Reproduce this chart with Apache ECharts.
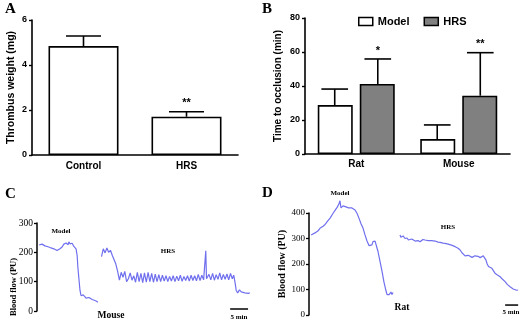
<!DOCTYPE html>
<html><head><meta charset="utf-8">
<script src="https://cdn.jsdelivr.net/npm/echarts@6/dist/echarts.min.js"></script>
<style>html,body{margin:0;padding:0;background:#fff}#c{width:522px;height:322px}</style>
</head><body><div id="c"></div>
<script>
// Panel A
const aCategories = ['Control', 'HRS'];
const aMeans = [4.84, 1.70];
const aErrors = [0.45, 0.22];
const aSig = ['', '**'];
const aTicks = [0, 2, 4, 6];
// Panel B
const bCategories = ['Rat', 'Mouse'];
const bModel = [28.8, 8.8];
const bModelErr = [9.4, 8.3];
const bHRS = [41.2, 34.3];
const bHRSErr = [14.7, 25.3];
const bHRSSig = ['*', '**'];
const bTicks = [0, 20, 40, 60, 80];
// Panel C traces [time (min), blood flow (PU)]
const cModel = [[0.6,225],[1.4,228],[2.2,222],[2.7,226],[3.1,219],[3.9,215],[4.3,218],[4.7,212],[5.2,210],[5.6,206],[6.0,210],[6.4,212],[7.0,218],[7.5,228],[8.1,232],[8.4,238],[8.7,226],[8.9,236],[9.2,229],[9.5,234],[9.8,231],[10.3,220],[10.9,212],[11.2,190],[11.4,150],[11.7,110],[12.0,70],[12.3,52],[12.6,47],[12.9,55],[13.1,50],[13.7,44],[14.2,43],[14.5,46],[14.8,40],[15.4,39],[15.7,42],[15.9,36],[16.5,34],[17.0,30]];
const cHRS = [[18.0,185],[18.5,212],[19.0,198],[19.5,215],[20.0,200],[20.5,207],[21.0,190],[21.5,196],[22.0,160],[22.5,135],[23.0,105],[23.5,132],[24.0,115],[24.5,135],[25.0,100],[25.5,110],[26.0,130],[26.5,105],[27.0,120],[27.5,98],[28.0,132],[28.5,100],[29.0,128],[29.5,97],[30.0,130],[30.5,98],[31.0,132],[31.5,100],[32.0,128],[32.5,98],[33.0,126],[33.5,100],[34.0,124],[34.5,100],[35.0,122],[35.5,102],[36.0,120],[36.5,100],[37.0,118],[37.5,102],[38.0,120],[38.5,100],[39.0,119],[39.5,103],[40.0,122],[40.5,101],[41.0,118],[41.5,104],[42.0,120],[42.5,102],[43.0,122],[43.5,104],[44.0,120],[44.5,103],[45.0,125],[45.5,104],[46.0,122],[46.5,106],[46.9,112],[47.1,205],[47.3,110],[47.6,108],[48.0,125],[48.5,106],[49.0,128],[49.5,105],[50.0,124],[50.5,108],[51.0,130],[51.5,106],[52.0,125],[52.5,108],[53.0,126],[53.5,106],[54.0,128],[54.5,110],[54.9,122],[55.3,95],[55.6,70],[56.0,62],[56.5,72],[57.0,65],[57.5,70],[58.0,62],[58.5,66],[59.0,60],[59.4,62]];
const cScaleBar = [[53.9,7],[58.9,7]];
const cTicks = [0, 100, 200, 300];
// Panel D traces [time (min), blood flow (PU)]
const dModel = [[0.8,314],[1.5,318],[2.3,322],[2.9,318],[3.5,330],[4.2,340],[4.8,336],[5.4,348],[6.2,355],[6.8,352],[7.3,370],[8.1,380],[8.6,376],[9.2,398],[10.0,410],[10.8,422],[11.5,435],[11.9,448],[12.3,420],[12.7,426],[13.1,428],[13.8,432],[14.2,424],[14.6,426],[15.2,420],[15.8,426],[16.5,420],[17.1,416],[17.7,412],[18.5,398],[19.2,380],[20.0,358],[20.8,340],[21.5,315],[22.3,290],[23.1,272],[23.8,265],[24.2,275],[24.6,288],[25.0,294],[25.4,290],[26.0,285],[26.5,250],[27.3,210],[28.1,170],[28.8,130],[29.6,95],[30.0,80],[30.4,82],[30.8,80],[31.2,86],[31.5,90],[31.9,80],[32.3,88]];
const dHRS = [[35.0,314],[35.3,305],[35.7,303],[36.2,310],[36.9,300],[37.3,304],[37.7,302],[38.2,294],[38.8,300],[39.5,298],[40.0,292],[40.8,290],[41.3,295],[41.9,292],[42.7,287],[43.3,292],[43.8,296],[44.6,294],[45.2,290],[45.8,292],[46.5,294],[47.1,292],[47.7,290],[48.5,290],[49.0,288],[49.6,286],[50.4,285],[51.0,284],[51.5,282],[52.3,281],[52.9,279],[53.5,278],[54.2,277],[54.8,274],[55.4,272],[56.2,268],[56.8,266],[57.3,262],[58.1,255],[58.8,244],[59.4,238],[60.0,232],[60.7,229],[61.2,234],[61.9,232],[62.7,226],[63.2,225],[63.8,232],[64.5,235],[65.0,230],[65.8,225],[66.5,230],[67.0,232],[67.5,225],[68.0,216],[68.5,200],[69.0,190],[69.6,188],[70.3,183],[70.8,175],[71.5,164],[72.3,158],[72.9,154],[73.5,150],[74.2,142],[74.8,136],[75.4,131],[76.2,120],[76.8,116],[77.3,111],[77.9,106],[78.5,102],[79.2,98],[79.8,97],[80.4,98]];
const dScaleBar = [[75.4,39],[80.4,39]];
const dTicks = [0, 100, 200, 300, 400];

const SANS = 'Liberation Sans';
const SERIF = 'Liberation Serif';
const TRACE = '#7070ee';

function errRender(offFrac, capFrac, sigs) {
  return function (params, api) {
    const cat = api.value(0), m = api.value(1), e = api.value(2);
    const band = api.size([1, 0])[0];
    const p0 = api.coord([cat, m]);
    const p1 = api.coord([cat, m + e]);
    const x = p0[0] + offFrac * band;
    const h = capFrac * band;
    const st = { stroke: '#000', lineWidth: 1.6 };
    const children = [
      { type: 'line', shape: { x1: x, y1: p0[1], x2: x, y2: p1[1] }, style: st },
      { type: 'line', shape: { x1: x - h, y1: p1[1], x2: x + h, y2: p1[1] }, style: st }
    ];
    const s = sigs[params.dataIndex];
    if (s) children.push({ type: 'text', style: { text: s, x: x, y: p1[1] - 3, align: 'center', verticalAlign: 'bottom', font: 'bold 11px ' + SANS, fill: '#000' } });
    return { type: 'group', children };
  };
}

const axisBold = { color: '#000', fontFamily: SANS, fontWeight: 'bold' };
const lineBlack = { lineStyle: { color: '#000', width: 1.6 } };

const chart = echarts.init(document.getElementById('c'), null, { renderer: 'canvas' });
chart.setOption({
  animation: false,
  backgroundColor: '#fff',
  grid: [
    { left: 32, top: 20, width: 206, height: 135 },
    { left: 305, top: 18, width: 205, height: 136 },
    { left: 37, top: 223, width: 215, height: 88 },
    { left: 309, top: 213, width: 212, height: 102 }
  ],
  legend: {
    left: 353, top: 11, itemWidth: 14, itemHeight: 8, itemGap: 14, icon: 'rect',
    textStyle: { fontFamily: SANS, fontWeight: 'bold', fontSize: 11, color: '#000' },
    data: [
      { name: 'Model', itemStyle: { color: '#fff', borderColor: '#000', borderWidth: 1.5 } },
      { name: 'HRS', itemStyle: { color: '#808080', borderColor: '#000', borderWidth: 1.5 } }
    ]
  },
  xAxis: [
    { gridIndex: 0, type: 'category', data: aCategories, axisLine: lineBlack,
      axisTick: { alignWithLabel: true, length: 4, lineStyle: { color: '#000', width: 1.6 } },
      axisLabel: Object.assign({ fontSize: 10, margin: 6 }, axisBold) },
    { gridIndex: 1, type: 'category', data: bCategories, axisLine: lineBlack,
      axisTick: { alignWithLabel: true, length: 4, lineStyle: { color: '#000', width: 1.6 } },
      axisLabel: Object.assign({ fontSize: 10, margin: 5 }, axisBold) },
    { gridIndex: 2, type: 'value', min: 0, max: 60, show: false },
    { gridIndex: 3, type: 'value', min: 0, max: 81.5, show: false }
  ],
  yAxis: [
    { gridIndex: 0, type: 'value', min: aTicks[0], max: aTicks[aTicks.length - 1], interval: 2,
      name: 'Thrombus weight (mg)', nameLocation: 'middle', nameGap: 15,
      nameTextStyle: { fontFamily: SANS, fontWeight: 'bold', fontSize: 10.5, color: '#000' },
      axisLine: Object.assign({ show: true }, lineBlack),
      axisTick: { show: true, length: 3, lineStyle: { color: '#000', width: 1.4 } },
      axisLabel: Object.assign({ fontSize: 9, margin: 5 }, axisBold), splitLine: { show: false } },
    { gridIndex: 1, type: 'value', min: bTicks[0], max: bTicks[bTicks.length - 1], interval: 20,
      name: 'Time to occlusion (min)', nameLocation: 'middle', nameGap: 22,
      nameTextStyle: { fontFamily: SANS, fontWeight: 'bold', fontSize: 10, color: '#000' },
      axisLine: Object.assign({ show: true }, lineBlack),
      axisTick: { show: true, length: 3, lineStyle: { color: '#000', width: 1.4 } },
      axisLabel: Object.assign({ fontSize: 9, margin: 5 }, axisBold), splitLine: { show: false } },
    { gridIndex: 2, type: 'value', min: cTicks[0], max: cTicks[cTicks.length - 1], interval: 100,
      axisLine: { show: true, lineStyle: { color: '#000', width: 1.5 } },
      axisTick: { show: true, length: 3, lineStyle: { color: '#000', width: 1.3 } },
      axisLabel: { fontFamily: SERIF, fontSize: 9.5, color: '#000', margin: 4 }, splitLine: { show: false } },
    { gridIndex: 3, type: 'value', min: dTicks[0], max: dTicks[dTicks.length - 1], interval: 100,
      name: 'Blood flow (PU)', nameLocation: 'middle', nameGap: 21,
      nameTextStyle: { fontFamily: SERIF, fontWeight: 'bold', fontSize: 10, color: '#000' },
      axisLine: { show: true, lineStyle: { color: '#000', width: 1.5 } },
      axisTick: { show: true, length: 3, lineStyle: { color: '#000', width: 1.3 } },
      axisLabel: { fontFamily: SERIF, fontSize: 9, color: '#000', margin: 4 }, splitLine: { show: false } }
  ],
  series: [
    { type: 'bar', xAxisIndex: 0, yAxisIndex: 0, data: aMeans, barWidth: 70,
      itemStyle: { color: '#fff', borderColor: '#000', borderWidth: 1.6 } },
    { type: 'custom', xAxisIndex: 0, yAxisIndex: 0, renderItem: errRender(0, 0.17, aSig),
      encode: { x: 0, y: 1 }, data: aMeans.map((m, i) => [i, m, aErrors[i]]), z: 5 },
    { name: 'Model', type: 'bar', xAxisIndex: 1, yAxisIndex: 1, data: bModel, barWidth: 35, barGap: '20%',
      itemStyle: { color: '#fff', borderColor: '#000', borderWidth: 1.6 } },
    { name: 'HRS', type: 'bar', xAxisIndex: 1, yAxisIndex: 1, data: bHRS, barWidth: 35, barGap: '20%',
      itemStyle: { color: '#808080', borderColor: '#000', borderWidth: 1.6 } },
    { type: 'custom', xAxisIndex: 1, yAxisIndex: 1, renderItem: errRender(-0.21, 0.13, ['', '']),
      encode: { x: 0, y: 1 }, data: bModel.map((m, i) => [i, m, bModelErr[i]]), z: 5 },
    { type: 'custom', xAxisIndex: 1, yAxisIndex: 1, renderItem: errRender(0.21, 0.13, bHRSSig),
      encode: { x: 0, y: 1 }, data: bHRS.map((m, i) => [i, m, bHRSErr[i]]), z: 5 },
    { type: 'line', xAxisIndex: 2, yAxisIndex: 2, data: cModel, showSymbol: false, clip: false,
      lineStyle: { color: TRACE, width: 1.2 } },
    { type: 'line', xAxisIndex: 2, yAxisIndex: 2, data: cHRS, showSymbol: false, clip: false,
      lineStyle: { color: TRACE, width: 1.2 } },
    { type: 'line', xAxisIndex: 2, yAxisIndex: 2, data: cScaleBar, showSymbol: false, clip: false,
      lineStyle: { color: '#000', width: 1.5 } },
    { type: 'line', xAxisIndex: 3, yAxisIndex: 3, data: dModel, showSymbol: false, clip: false,
      lineStyle: { color: TRACE, width: 1.2 } },
    { type: 'line', xAxisIndex: 3, yAxisIndex: 3, data: dHRS, showSymbol: false, clip: false,
      lineStyle: { color: TRACE, width: 1.2 } },
    { type: 'line', xAxisIndex: 3, yAxisIndex: 3, data: dScaleBar, showSymbol: false, clip: false,
      lineStyle: { color: '#000', width: 1.5 } }
  ],
  graphic: [
    { type: 'text', left: 5, top: 2, style: { text: 'A', font: 'bold 15px ' + SERIF, fill: '#000' } },
    { type: 'text', left: 262, top: 2, style: { text: 'B', font: 'bold 15px ' + SERIF, fill: '#000' } },
    { type: 'text', left: 5, top: 187, style: { text: 'C', font: 'bold 15px ' + SERIF, fill: '#000' } },
    { type: 'text', left: 262, top: 186, style: { text: 'D', font: 'bold 15px ' + SERIF, fill: '#000' } },
    { type: 'text', x: 14, y: 287, rotation: Math.PI / 2, style: { text: 'Blood flow (PU)', font: 'bold 8.5px ' + SERIF, fill: '#000', align: 'center', verticalAlign: 'middle' } },
    { type: 'text', x: 61, y: 231, style: { text: 'Model', font: 'bold 7px ' + SERIF, fill: '#000', align: 'center', verticalAlign: 'middle' } },
    { type: 'text', x: 168, y: 251, style: { text: 'HRS', font: 'bold 7px ' + SERIF, fill: '#000', align: 'center', verticalAlign: 'middle' } },
    { type: 'text', x: 111, y: 316, style: { text: 'Mouse', font: 'bold 9.5px ' + SERIF, fill: '#000', align: 'center', verticalAlign: 'middle' } },
    { type: 'text', x: 239, y: 317, style: { text: '5 min', font: 'bold 7px ' + SERIF, fill: '#000', align: 'center', verticalAlign: 'middle' } },
    { type: 'text', x: 340, y: 193, style: { text: 'Model', font: 'bold 7px ' + SERIF, fill: '#000', align: 'center', verticalAlign: 'middle' } },
    { type: 'text', x: 448, y: 227, style: { text: 'HRS', font: 'bold 7px ' + SERIF, fill: '#000', align: 'center', verticalAlign: 'middle' } },
    { type: 'text', x: 402, y: 308, style: { text: 'Rat', font: 'bold 9.5px ' + SERIF, fill: '#000', align: 'center', verticalAlign: 'middle' } },
    { type: 'text', x: 511, y: 312, style: { text: '5 min', font: 'bold 7px ' + SERIF, fill: '#000', align: 'center', verticalAlign: 'middle' } }
  ]
});
</script></body></html>
